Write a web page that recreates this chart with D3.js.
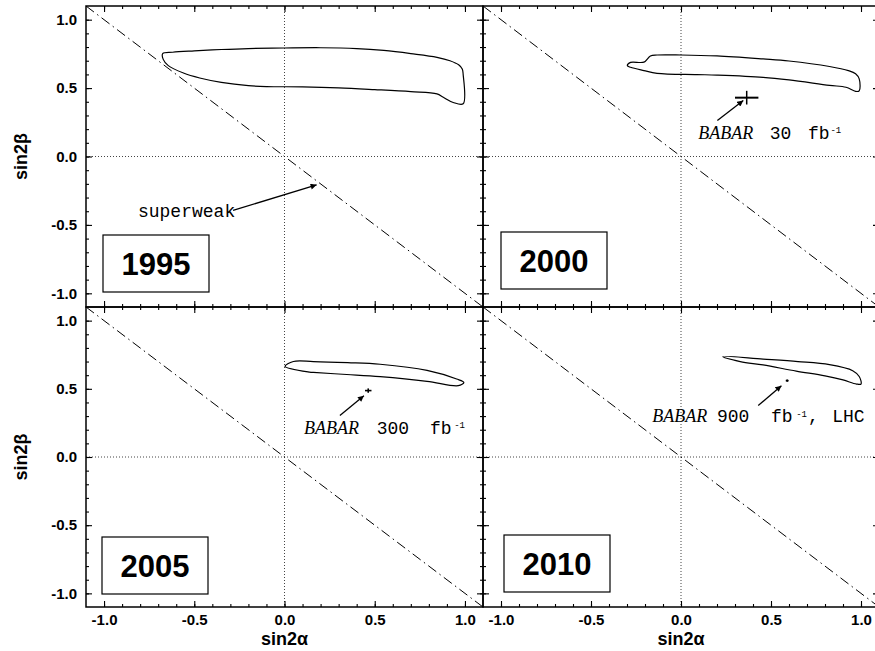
<!DOCTYPE html>
<html>
<head>
<meta charset="utf-8">
<script src="https://cdn.jsdelivr.net/npm/d3@7"></script>
<style>
  html, body { margin: 0; padding: 0; background: #fff; }
  svg { display: block; }
</style>
</head>
<body>
<script>
// ---------------- data ----------------
const years = ["1995", "2000", "2005", "2010"];
const majorTicks = [-1.0, -0.5, 0.0, 0.5, 1.0];
const minorTicks = [-1.0, -0.9, -0.8, -0.7, -0.6, -0.5, -0.4, -0.3, -0.2, -0.1, 0.0,
                    0.1, 0.2, 0.3, 0.4, 0.5, 0.6, 0.7, 0.8, 0.9, 1.0];
const tickLabels = ["-1.0", "-0.5", "0.0", "0.5", "1.0"];
const superweakLine = [[-1.1, 1.1], [1.1, -1.1]];

const contour1995 = [
  [-0.675, 0.752], [-0.62, 0.762], [-0.5, 0.772], [-0.35, 0.782], [-0.2, 0.789], [0.0, 0.793],
  [0.2, 0.795], [0.4, 0.789], [0.55, 0.775], [0.7, 0.752], [0.845, 0.725], [0.917, 0.70],
  [0.965, 0.67], [0.985, 0.64], [0.99, 0.60], [0.99, 0.385], [0.935, 0.395], [0.88, 0.433],
  [0.845, 0.458], [0.7, 0.474], [0.5, 0.489], [0.3, 0.502], [0.1, 0.509], [-0.1, 0.511],
  [-0.2, 0.518], [-0.35, 0.542], [-0.47, 0.574], [-0.56, 0.61], [-0.644, 0.664], [-0.672, 0.71]
];
const contour2000 = [
  [-0.298, 0.664], [-0.28, 0.688], [-0.206, 0.69], [-0.17, 0.735], [-0.133, 0.742], [0.0, 0.742],
  [0.2, 0.735], [0.456, 0.713], [0.6, 0.698], [0.825, 0.658], [0.93, 0.628], [0.97, 0.605],
  [0.99, 0.567], [0.99, 0.48], [0.97, 0.476], [0.917, 0.506], [0.825, 0.52], [0.6, 0.56],
  [0.456, 0.579], [0.2, 0.595], [0.088, 0.599], [-0.133, 0.608], [-0.206, 0.628], [-0.28, 0.652]
];
const contour2005 = [
  [0.003, 0.664], [0.049, 0.70], [0.16, 0.70], [0.35, 0.692], [0.53, 0.68], [0.79, 0.635],
  [0.954, 0.572], [0.994, 0.547], [0.963, 0.523], [0.79, 0.555], [0.53, 0.589], [0.345, 0.605],
  [0.16, 0.62], [0.14, 0.622]
];
const contour2010 = [
  [0.232, 0.737], [0.456, 0.718], [0.65, 0.70], [0.825, 0.677], [0.954, 0.633], [0.99, 0.59],
  [1.0, 0.535], [0.975, 0.535], [0.9, 0.565], [0.8, 0.595], [0.64, 0.63], [0.456, 0.675],
  [0.329, 0.70]
];

// BaBar expected measurement: [sin2alpha, sin2beta, err alpha, err beta]
const babar2000 = [0.365, 0.43, 0.065, 0.05];
const babar2005 = [0.464, 0.487, 0.018, 0.016];
const babar2010 = [0.59, 0.56, 0.008, 0.008];

// ---------------- layout ----------------
const W = 875, H = 651;
const colRange = [[86, 483], [483, 879]];
const rowRange = [[6, 307], [307, 607]];

const svg = d3.select("body").append("svg").attr("width", W).attr("height", H);
const defs = svg.append("defs");
defs.append("marker").attr("id", "arr").attr("viewBox", "0 0 10 10")
  .attr("refX", 10).attr("refY", 5).attr("markerWidth", 7).attr("markerHeight", 6)
  .attr("markerUnits", "userSpaceOnUse").attr("orient", "auto")
  .append("path").attr("d", "M0,0 L10,5 L0,10 Z").attr("fill", "#000");

const monoFont = "'Liberation Mono', 'DejaVu Sans Mono', Courier, monospace";
const serifFont = "'Liberation Serif', 'DejaVu Serif', Times, serif";
const sansFont = "'Liberation Sans', Arial, Helvetica, sans-serif";

const panels = [
  { year: years[0], col: 0, row: 0, contour: contour1995, box: [17, 229] },
  { year: years[1], col: 1, row: 0, contour: contour2000, box: [18, 226], babar: babar2000, cross: true,
    arrow: [[0.202, 0.263], [0.346, 0.409]],
    label: { babar: [0.096, 0.131], num: "30", numX: 0.493, fbX: 0.705, supX: 0.83, supY: 0.17 } },
  { year: years[2], col: 0, row: 1, contour: contour2005, box: [16, 230], babar: babar2005,
    arrow: [[0.307, 0.304], [0.44, 0.45]],
    label: { babar: [0.108, 0.171], num: "300", numX: 0.511, fbX: 0.806, supX: 0.94, supY: 0.21 } },
  { year: years[3], col: 1, row: 1, contour: contour2010, box: [21, 228], babar: babar2010,
    arrow: [[0.429, 0.377], [0.558, 0.523]],
    label: { babar: [-0.16, 0.255], num: "900", numX: 0.2, fbX: 0.5, supX: 0.64, supY: 0.295, lhc: true } }
];

panels.forEach((p, i) => {
  const [x0, x1] = colRange[p.col];
  const [y0, y1] = rowRange[p.row];
  const x = d3.scaleLinear().domain([-1.1, 1.1]).range([x0, x1]);
  const y = d3.scaleLinear().domain([-1.1, 1.1]).range([y1, y0]);
  const g = svg.append("g");

  const clipId = "clip" + i;
  defs.append("clipPath").attr("id", clipId).append("rect")
    .attr("x", x0).attr("y", y0).attr("width", x1 - x0).attr("height", y1 - y0);
  const inner = g.append("g").attr("clip-path", `url(#${clipId})`);

  // dotted zero lines
  inner.append("line").attr("x1", x(0)).attr("x2", x(0)).attr("y1", y0).attr("y2", y1)
    .attr("stroke", "#444").attr("stroke-width", 1).attr("stroke-dasharray", "1,2");
  inner.append("line").attr("x1", x0).attr("x2", x1).attr("y1", y(0)).attr("y2", y(0))
    .attr("stroke", "#444").attr("stroke-width", 1).attr("stroke-dasharray", "1,2");

  // superweak dash-dot line
  inner.append("path").datum(superweakLine)
    .attr("d", d3.line().x(d => x(d[0])).y(d => y(d[1])))
    .attr("fill", "none").attr("stroke", "#000").attr("stroke-width", 1)
    .attr("stroke-dasharray", "10,4,1.5,4");

  // contour
  inner.append("path").datum(p.contour)
    .attr("d", d3.line().x(d => x(d[0])).y(d => y(d[1])).curve(d3.curveCatmullRomClosed.alpha(0.5)))
    .attr("fill", "none").attr("stroke", "#000").attr("stroke-width", 1.2);

  // BaBar point
  if (p.babar) {
    const [bx, by, ex, ey] = p.babar;
    const bw = p.cross ? 2 : 1.6;
    inner.append("line").attr("x1", x(bx - ex)).attr("x2", x(bx + ex)).attr("y1", y(by)).attr("y2", y(by))
      .attr("stroke", "#000").attr("stroke-width", bw);
    inner.append("line").attr("x1", x(bx)).attr("x2", x(bx)).attr("y1", y(by - ey)).attr("y2", y(by + ey))
      .attr("stroke", "#000").attr("stroke-width", p.cross ? 1.5 : 1.6);
    inner.append("path").datum(p.arrow)
      .attr("d", d3.line().x(d => x(d[0])).y(d => y(d[1])))
      .attr("stroke", "#000").attr("stroke-width", 1.3).attr("fill", "none")
      .attr("marker-end", "url(#arr)");
    const L = p.label;
    const t = g.append("g");
    t.append("text").attr("x", x(L.babar[0])).attr("y", y(L.babar[1]))
      .attr("font-family", serifFont).attr("font-style", "italic").attr("font-size", 18)
      .text("BABAR");
    t.append("text").attr("x", x(L.numX)).attr("y", y(L.babar[1]))
      .attr("font-family", monoFont).attr("font-size", 18).text(L.num);
    t.append("text").attr("x", x(L.fbX)).attr("y", y(L.babar[1]))
      .attr("font-family", monoFont).attr("font-size", 18).text("fb");
    t.append("text").attr("x", x(L.supX)).attr("y", y(L.supY))
      .attr("font-family", monoFont).attr("font-size", 9).text("-1");
    if (L.lhc) {
      t.append("text").attr("x", x(0.705)).attr("y", y(L.babar[1]))
        .attr("font-family", monoFont).attr("font-size", 18).text(",");
      t.append("text").attr("x", x(0.84)).attr("y", y(L.babar[1]))
        .attr("font-family", monoFont).attr("font-size", 18).text("LHC");
    }
  }

  // superweak annotation (1995)
  if (i === 0) {
    g.append("text").attr("x", x(-0.812)).attr("y", y(-0.443))
      .attr("font-family", monoFont).attr("font-size", 18).text("superweak");
    g.append("path").datum([[-0.285, -0.394], [0.178, -0.207]])
      .attr("d", d3.line().x(d => x(d[0])).y(d => y(d[1])))
      .attr("stroke", "#000").attr("stroke-width", 1.3).attr("fill", "none")
      .attr("marker-end", "url(#arr)");
  }

  // year box
  const bx0 = x0 + p.box[0], by0 = y0 + p.box[1];
  g.append("rect").attr("x", bx0).attr("y", by0).attr("width", 106).attr("height", 57)
    .attr("fill", "#fff").attr("stroke", "#000").attr("stroke-width", 1.2);
  g.append("text").attr("x", bx0 + 53).attr("y", by0 + 29).attr("dy", "0.36em")
    .attr("text-anchor", "middle").attr("font-family", sansFont).attr("font-weight", "bold")
    .attr("font-size", 31).text(p.year);

  // frame
  g.append("rect").attr("x", x0).attr("y", y0).attr("width", x1 - x0).attr("height", y1 - y0)
    .attr("fill", "none").attr("stroke", "#000").attr("stroke-width", 1.5);

  // inward ticks on all four sides
  const tickSets = [[minorTicks, 3], [majorTicks, 6]];
  tickSets.forEach(([vals, len]) => {
    const mk = (axis, tx, ty) => {
      const a = g.append("g").attr("transform", `translate(${tx},${ty})`)
        .call(axis.tickValues(vals).tickSize(-len).tickFormat(""));
      a.select(".domain").remove();
      a.selectAll("line").attr("stroke", "#000").attr("stroke-width", 1.1);
    };
    mk(d3.axisLeft(y), x0, 0);
    mk(d3.axisRight(y), x1, 0);
    mk(d3.axisTop(x), 0, y0);
    mk(d3.axisBottom(x), 0, y1);
  });

  // tick labels
  if (p.col === 0) {
    const a = g.append("g").attr("transform", `translate(${x0},0)`)
      .call(d3.axisLeft(y).tickValues(majorTicks).tickSize(0).tickPadding(9)
        .tickFormat((d, k) => tickLabels[k]));
    a.select(".domain").remove();
    a.selectAll("text").attr("font-family", sansFont).attr("font-weight", "bold")
      .attr("font-size", 15).attr("fill", "#000");
    g.append("text").attr("transform", `translate(27,${y(0)}) rotate(-90)`)
      .attr("text-anchor", "middle").attr("font-family", sansFont).attr("font-weight", "bold")
      .attr("font-size", 18).text("sin2β");
  }
  if (p.row === 1) {
    const a = g.append("g").attr("transform", `translate(0,${y1})`)
      .call(d3.axisBottom(x).tickValues(majorTicks).tickSize(0).tickPadding(7)
        .tickFormat((d, k) => tickLabels[k]));
    a.select(".domain").remove();
    a.selectAll("text").attr("font-family", sansFont).attr("font-weight", "bold")
      .attr("font-size", 15).attr("fill", "#000");
    g.append("text").attr("x", x(0)).attr("y", 645)
      .attr("text-anchor", "middle").attr("font-family", sansFont).attr("font-weight", "bold")
      .attr("font-size", 18).text("sin2α");
  }
});
</script>
</body>
</html>
